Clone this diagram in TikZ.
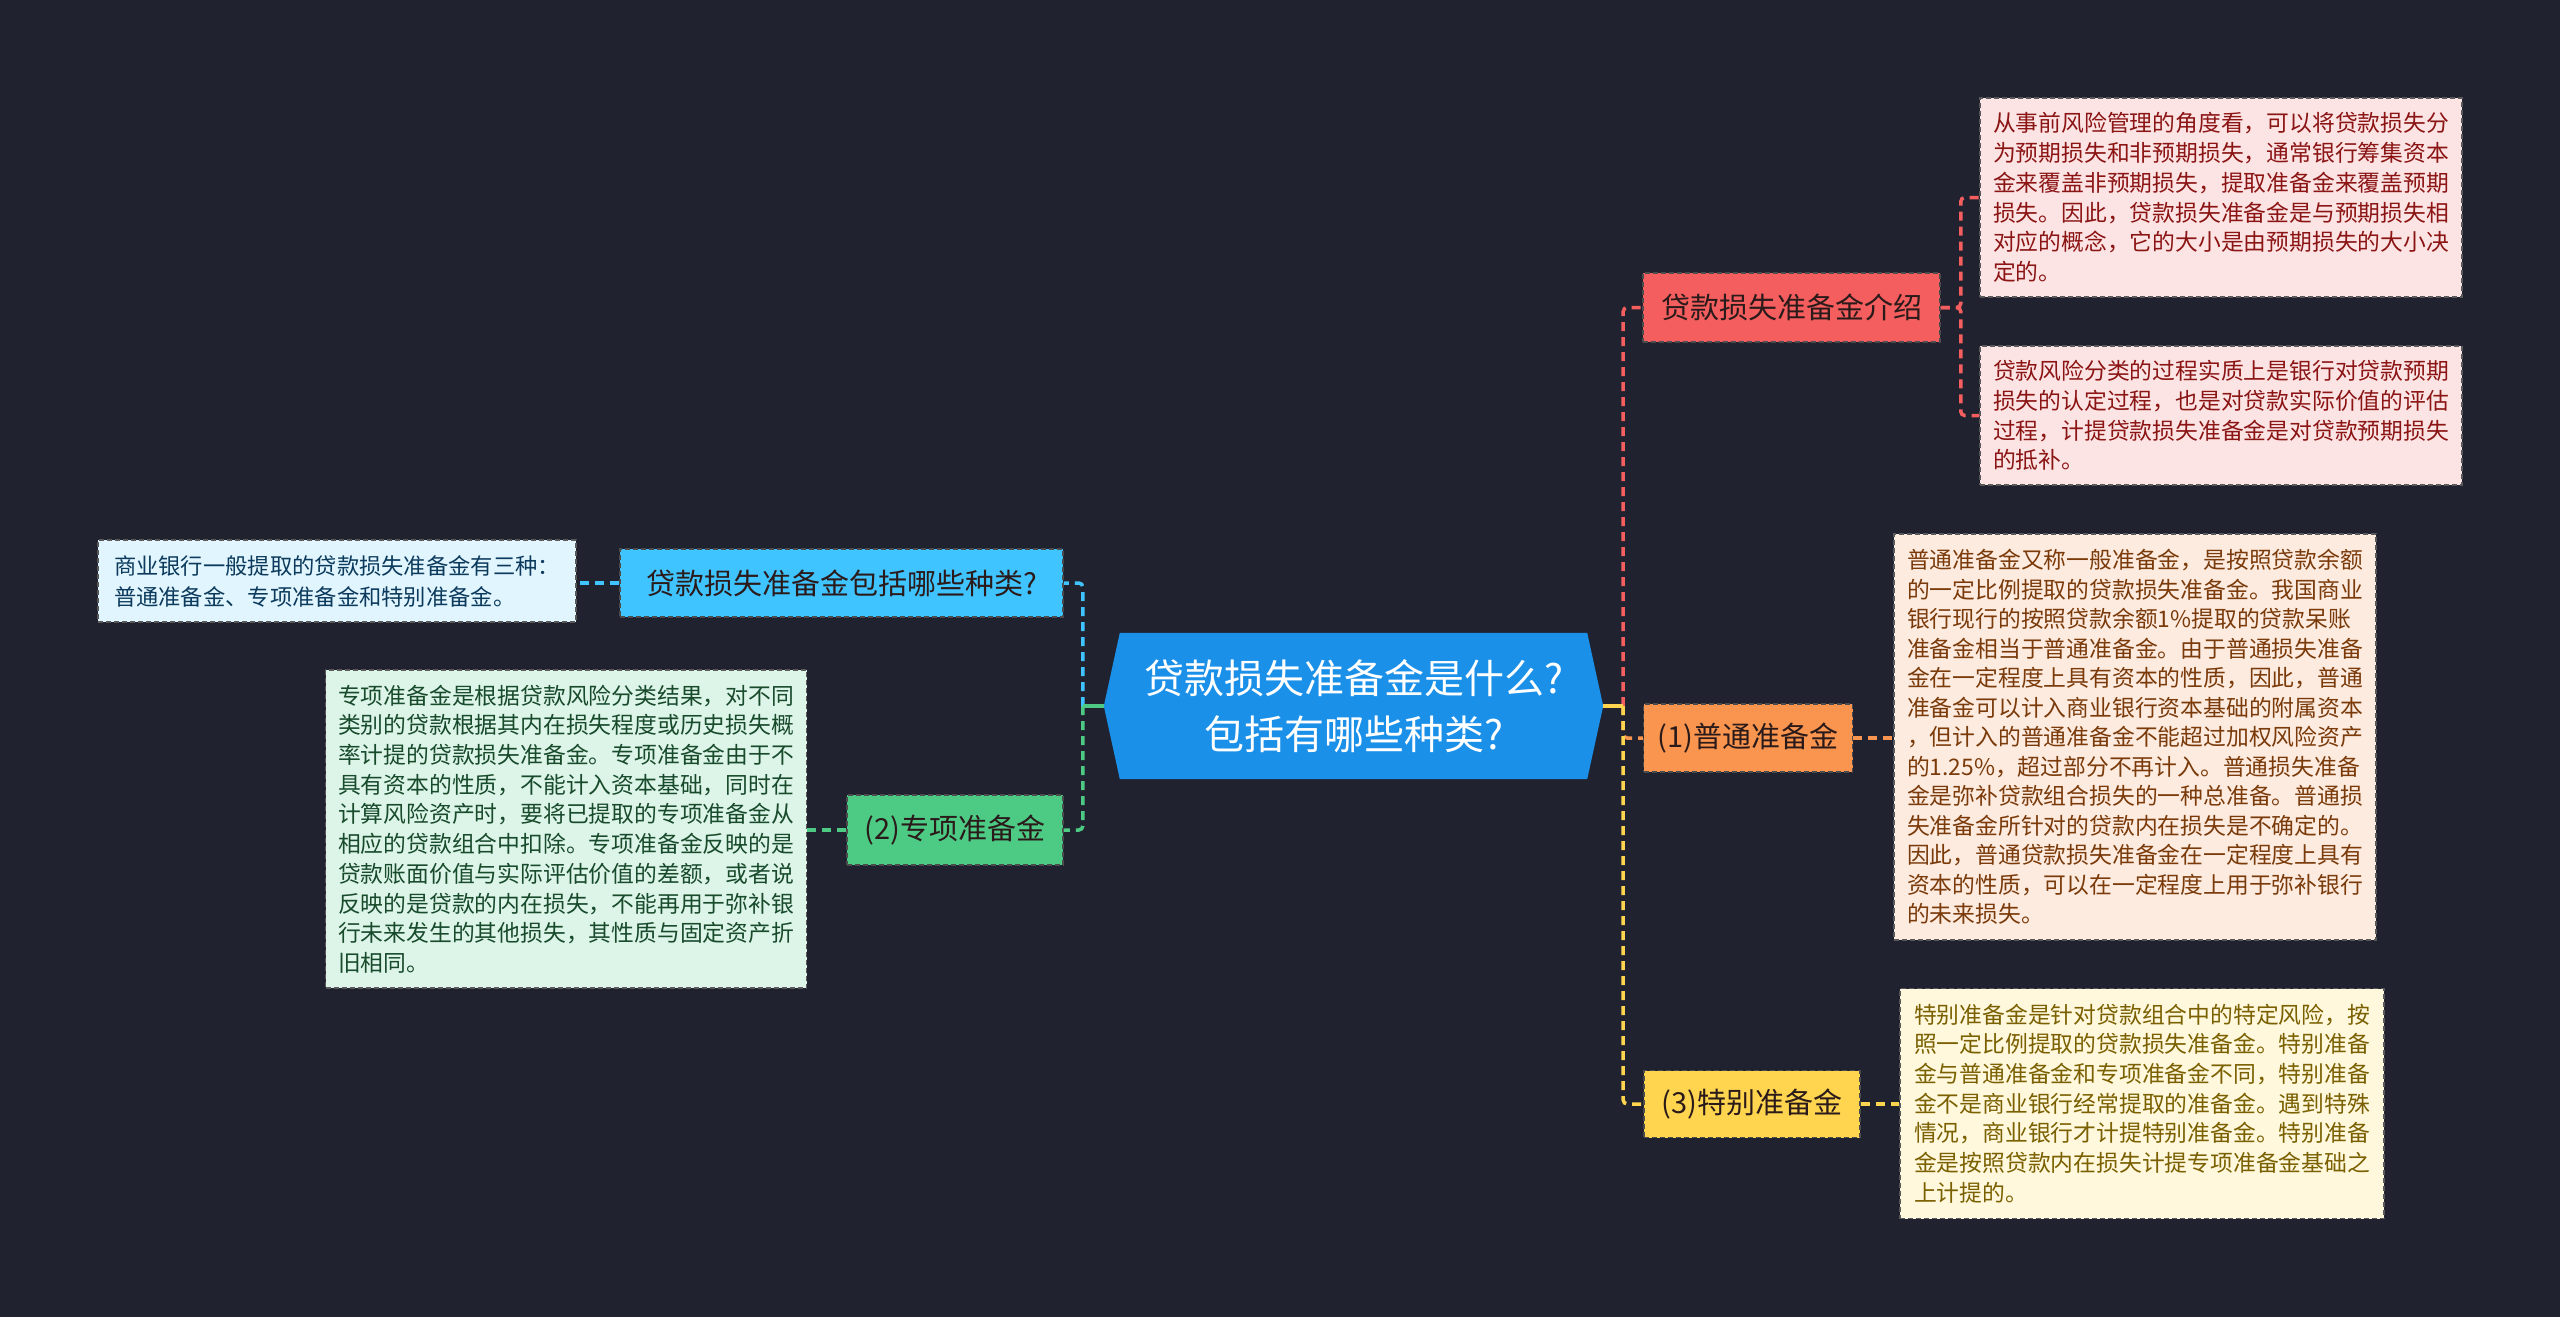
\documentclass[tikz,border=0pt]{standalone}
\usepackage{fontspec}
\setmainfont{Noto Sans CJK SC}
\usetikzlibrary{backgrounds}
\definecolor{bg}{HTML}{20232F}
\definecolor{hexc}{HTML}{1B90E9}
\definecolor{redn}{HTML}{F45E5E}
\definecolor{orgn}{HTML}{F9954F}
\definecolor{yeln}{HTML}{FFD54F}
\definecolor{blun}{HTML}{40C4FF}
\definecolor{grnn}{HTML}{4DCB84}
\definecolor{redf}{HTML}{FDE4E4}
\definecolor{redt}{HTML}{8B1414}
\definecolor{orgf}{HTML}{FDEBDF}
\definecolor{orgt}{HTML}{7A3A0A}
\definecolor{yelf}{HTML}{FFF8DC}
\definecolor{yelt}{HTML}{7A6000}
\definecolor{grnf}{HTML}{DDF5E8}
\definecolor{grnt}{HTML}{184A2C}
\definecolor{bluf}{HTML}{E1F5FE}
\definecolor{blut}{HTML}{0B3A5C}
\definecolor{nodet}{HTML}{2A1A1A}
\begin{document}
\begin{tikzpicture}[x=1pt,y=-1pt,
  tbox/.style={draw=black!65, line width=1.5pt, dash pattern=on 5pt off 3pt, align=left, inner sep=0pt, font=\fontsize{22.8pt}{29.7pt}\selectfont},
  topic/.style={draw=black!70, line width=1.5pt, dash pattern=on 5pt off 3pt, inner sep=0pt, font=\fontsize{29pt}{36pt}\selectfont},
  link/.style={line width=3.5pt, dash pattern=on 9pt off 6pt, rounded corners=4pt},
  stub/.style={line width=3.5pt}]
\useasboundingbox (0,0) rectangle (2560,1317);

% central node
\node[minimum width=467pt, minimum height=146pt, inner sep=0pt, align=center, text=white, font=\fontsize{40pt}{56pt}\selectfont] (center) at (1353.5,706) {贷款损失准备金是什么?\\包括有哪些种类?};

% first-level topics
\node[topic, fill=redn, text=nodet, minimum width=297pt, minimum height=69pt] (n1) at (1791.5,307.5) {贷款损失准备金介绍};
\node[topic, fill=orgn, text=nodet, minimum width=209pt, minimum height=68pt] (n2) at (1748,738) {(1)普通准备金};
\node[topic, fill=yeln, text=nodet, minimum width=216pt, minimum height=67pt] (n3) at (1752,1104) {(3)特别准备金};
\node[topic, fill=blun, text=nodet, minimum width=443pt, minimum height=68pt] (n4) at (841.5,583) {贷款损失准备金包括哪些种类?};
\node[topic, fill=grnn, text=nodet, minimum width=216pt, minimum height=70pt] (n5) at (955,830) {(2)专项准备金};

% text boxes
\node[tbox, fill=redf, text=redt, minimum width=482pt, minimum height=199pt] (b1) at (2221,197.5) {从事前风险管理的角度看，可以将贷款损失分\\为预期损失和非预期损失，通常银行筹集资本\\金来覆盖非预期损失，提取准备金来覆盖预期\\损失。因此，贷款损失准备金是与预期损失相\\对应的概念，它的大小是由预期损失的大小决\\定的。};
\node[tbox, fill=redf, text=redt, minimum width=482pt, minimum height=139pt] (b2) at (2221,415.5) {贷款风险分类的过程实质上是银行对贷款预期\\损失的认定过程，也是对贷款实际价值的评估\\过程，计提贷款损失准备金是对贷款预期损失\\的抵补。};
\node[tbox, fill=orgf, text=orgt, minimum width=482pt, minimum height=406pt, font=\fontsize{22.8pt}{29.5pt}\selectfont] (b3) at (2135,737) {普通准备金又称一般准备金，是按照贷款余额\\的一定比例提取的贷款损失准备金。我国商业\\银行现行的按照贷款余额1\%提取的贷款呆账\\准备金相当于普通准备金。由于普通损失准备\\金在一定程度上具有资本的性质，因此，普通\\准备金可以计入商业银行资本基础的附属资本\\，但计入的普通准备金不能超过加权风险资产\\的1.25\%，超过部分不再计入。普通损失准备\\金是弥补贷款组合损失的一种总准备。普通损\\失准备金所针对的贷款内在损失是不确定的。\\因此，普通贷款损失准备金在一定程度上具有\\资本的性质，可以在一定程度上用于弥补银行\\的未来损失。};
\node[tbox, fill=yelf, text=yelt, minimum width=484pt, minimum height=230pt] (b4) at (2142,1103.5) {特别准备金是针对贷款组合中的特定风险，按\\照一定比例提取的贷款损失准备金。特别准备\\金与普通准备金和专项准备金不同，特别准备\\金不是商业银行经常提取的准备金。遇到特殊\\情况，商业银行才计提特别准备金。特别准备\\金是按照贷款内在损失计提专项准备金基础之\\上计提的。};
\node[tbox, fill=bluf, text=blut, minimum width=478pt, minimum height=82pt, font=\fontsize{22.3pt}{31pt}\selectfont] (b5) at (337,581) {商业银行一般提取的贷款损失准备金有三种：\\普通准备金、专项准备金和特别准备金。};
\node[tbox, fill=grnf, text=grnt, minimum width=481pt, minimum height=318pt] (b6) at (566,829) {专项准备金是根据贷款风险分类结果，对不同\\类别的贷款根据其内在损失程度或历史损失概\\率计提的贷款损失准备金。专项准备金由于不\\具有资本的性质，不能计入资本基础，同时在\\计算风险资产时，要将已提取的专项准备金从\\相应的贷款组合中扣除。专项准备金反映的是\\贷款账面价值与实际评估价值的差额，或者说\\反映的是贷款的内在损失，不能再用于弥补银\\行未来发生的其他损失，其性质与固定资产折\\旧相同。};

% background and hexagon
\begin{scope}[on background layer]
\fill[bg] (0,0) rectangle (2560,1317);
\fill[hexc] (center.north west) -- (center.north east) -- ([xshift=16pt]center.east) -- (center.south east) -- (center.south west) -- ([xshift=-16pt]center.west) -- cycle;
\end{scope}

% right side connectors
\coordinate (hr) at ([xshift=16pt]center.east);
\coordinate (tr) at ([xshift=36pt]center.east);
\draw[stub, redn] (hr) -- (tr);
\draw[link, redn] (tr) |- (n1.west);
\draw[stub, orgn] (hr) -- (tr);
\draw[link, orgn] (tr) |- (n2.west);
\draw[stub, yeln] (hr) -- (tr);
\draw[link, yeln] (tr) |- (n3.west);

% left side connectors
\coordinate (hl) at ([xshift=-16pt]center.west);
\coordinate (tl) at ([xshift=-37pt]center.west);
\draw[stub, blun] (hl) -- (tl);
\draw[link, blun] (tl) |- (n4.east);
\draw[stub, grnn] (hl) -- (tl);
\draw[link, grnn] (tl) |- (n5.east);

% second level connectors
\draw[link, redn] (n1.east) -- ++(20,0) |- (b1.west);
\draw[link, redn] (n1.east) -- ++(20,0) |- (b2.west);
\draw[link, orgn] (n2.east) -- (b3.west |- n2.east);
\draw[link, yeln] (n3.east) -- (b4.west |- n3.east);
\draw[link, blun] (n4.west) -- (b5.east |- n4.west);
\draw[link, grnn] (n5.west) -- (b6.east |- n5.west);
\end{tikzpicture}
\end{document}
